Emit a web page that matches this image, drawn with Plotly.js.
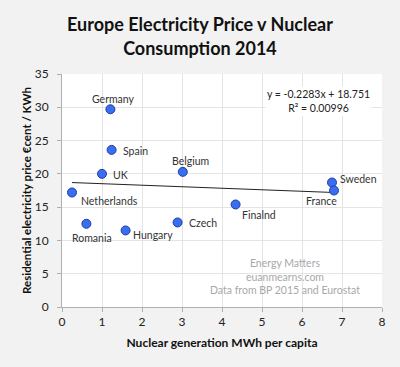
<!DOCTYPE html>
<html><head><meta charset="utf-8">
<script src="https://cdn.plot.ly/plotly-3.0.1.min.js"></script>
<style>html,body{margin:0;padding:0;background:#f2f2f2;}#chart{width:400px;height:367px;}</style>
</head><body><div id="chart"></div>
<script>
// Data
var countries = ["Germany","Spain","UK","Belgium","Netherlands","Sweden","France","Finalnd","Romania","Hungary","Czech"];
var nuclearMWh = [1.21, 1.24, 1.00, 3.02, 0.25, 6.75, 6.80, 4.34, 0.61, 1.59, 2.89];
var priceCent  = [29.7, 23.6, 20.0, 20.3, 17.2, 18.7, 17.5, 15.4, 12.5, 11.5, 12.7];
var trendSlope = -0.2283;
var trendIntercept = 18.751;
var equationLines = ["y = -0.2283x + 18.751", "R² = 0.00996"];
var watermarkLines = ["Energy Matters", "euanmearns.com", "Data from BP 2015 and Eurostat"];

// Label placement (pixels offsets), style only
var labelDX = [3, 24, 18, 8, 37, 26, -13, 23, 6, 27, 25];
var labelDY = [10, -1, -1, 11, -8, 4, -10, -11, -14, -5, -1];

var xmin = Math.min.apply(null, nuclearMWh), xmax = Math.max.apply(null, nuclearMWh);
var trendX = [xmin, xmax];
var trendY = trendX.map(function(x){return trendSlope*x + trendIntercept;});

var font = "Lato, 'Open Sans', sans-serif";

var traces = [
  {x: trendX, y: trendY, mode: "lines", type: "scatter", line: {color: "#222", width: 1}, hoverinfo: "skip"},
  {x: nuclearMWh, y: priceCent, mode: "markers", type: "scatter",
   marker: {color: "#3a6df2", size: 9, line: {color: "#1f3f9e", width: 1}}}
];

var annotations = countries.map(function(c, i){
  return {x: nuclearMWh[i], y: priceCent[i], xref: "x", yref: "y", text: c, showarrow: false,
    xshift: labelDX[i], yshift: labelDY[i], font: {family: font, size: 10.5, color: "#333"}};
});
annotations.push({x: 0.803, y: 0.885, xref: "paper", yref: "paper", xanchor: "center", yanchor: "middle", showarrow: false,
  text: equationLines.join("<br>"), bgcolor: "#ffffff", borderpad: 1,
  font: {family: font, size: 10.5, color: "#222"}});
annotations.push({x: 0.697, y: 0.133, xref: "paper", yref: "paper", xanchor: "center", yanchor: "middle", showarrow: false,
  text: watermarkLines.join("<br>"), font: {family: font, size: 10.5, color: "#a8a8a8"}});

var layout = {
  width: 400, height: 367,
  paper_bgcolor: "#f2f2f2", plot_bgcolor: "#ffffff",
  margin: {l: 62, r: 18, t: 74, b: 60},
  showlegend: false,
  title: {text: "<b>Europe Electricity Price v Nuclear<br>Consumption 2014</b>", x: 0.5, xanchor: "center", y: 0.915, yanchor: "top",
          font: {family: font, size: 18, color: "#111"}},
  xaxis: {range: [0, 8], dtick: 1, tick0: 0, showgrid: true, gridcolor: "#e4e4e4", zeroline: false,
          showline: true, linecolor: "#b0b0b0", ticks: "outside", ticklen: 4, tickcolor: "#b0b0b0",
          tickfont: {family: font, size: 12, color: "#222"}, fixedrange: true,
          title: {text: "<b>Nuclear generation MWh per capita</b>", font: {family: font, size: 12, color: "#111"}, standoff: 10}},
  yaxis: {range: [0, 35], dtick: 5, tick0: 0, showgrid: true, gridcolor: "#e4e4e4", zeroline: false,
          showline: true, linecolor: "#b0b0b0", ticks: "outside", ticklen: 4, tickcolor: "#b0b0b0",
          ticklabelstandoff: 6,
          tickfont: {family: font, size: 12, color: "#222"}, fixedrange: true,
          title: {text: "<b>Residential electricity price €cent / KWh</b>", font: {family: font, size: 11.5, color: "#111"}, standoff: 0}},
  annotations: annotations
};

Plotly.newPlot("chart", traces, layout, {displayModeBar: false, staticPlot: true});
</script></body></html>
